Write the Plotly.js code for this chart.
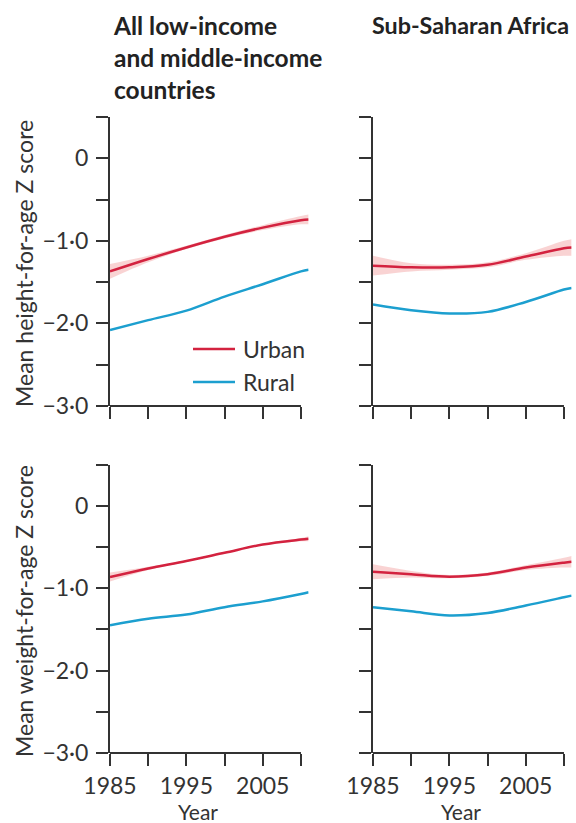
<!DOCTYPE html>
<html>
<head>
<meta charset="utf-8">
<script src="https://cdn.plot.ly/plotly-3.0.1.min.js"></script>
<style>
html,body{margin:0;padding:0;background:#fff;}
#chart{width:576px;height:823px;}
</style>
</head>
<body>
<div id="chart"></div>
<script>
// ---- data ----
var years = [1985, 1990, 1995, 2000, 2005, 2010, 2011];

var hazAllUrban   = [-1.37, -1.22, -1.08, -0.95, -0.84, -0.75, -0.74];
var hazAllUrbanLo = [-1.46, -1.26, -1.10, -0.97, -0.87, -0.80, -0.80];
var hazAllUrbanHi = [-1.28, -1.18, -1.06, -0.93, -0.81, -0.70, -0.68];
var hazAllRural   = [-2.08, -1.96, -1.845, -1.675, -1.525, -1.37, -1.35];

var hazSsaUrban   = [-1.30, -1.32, -1.32, -1.29, -1.19, -1.09, -1.08];
var hazSsaUrbanLo = [-1.42, -1.37, -1.35, -1.32, -1.23, -1.18, -1.18];
var hazSsaUrbanHi = [-1.18, -1.27, -1.29, -1.26, -1.15, -1.00, -0.98];
var hazSsaRural   = [-1.77, -1.84, -1.88, -1.86, -1.74, -1.59, -1.57];

var wazAllUrban   = [-0.865, -0.76, -0.67, -0.57, -0.47, -0.41, -0.40];
var wazAllUrbanLo = [-0.92, -0.78, -0.68, -0.58, -0.48, -0.43, -0.43];
var wazAllUrbanHi = [-0.81, -0.74, -0.66, -0.56, -0.46, -0.39, -0.37];
var wazAllRural   = [-1.45, -1.37, -1.32, -1.23, -1.16, -1.07, -1.05];

var wazSsaUrban   = [-0.80, -0.83, -0.86, -0.83, -0.75, -0.69, -0.68];
var wazSsaUrbanLo = [-0.89, -0.87, -0.88, -0.85, -0.78, -0.75, -0.75];
var wazSsaUrbanHi = [-0.71, -0.79, -0.84, -0.81, -0.72, -0.63, -0.61];
var wazSsaRural   = [-1.23, -1.28, -1.33, -1.30, -1.21, -1.11, -1.09];

var yTickVals = [-3, -2.5, -2, -1.5, -1, -0.5, 0, 0.5];
var yTickText = ["\u22123\u00b70", "", "\u22122\u00b70", "", "\u22121\u00b70", "", "0", ""];
var xTickVals = [1985, 1990, 1995, 2000, 2005, 2010];
var xTickText = ["1985", "", "1995", "", "2005", ""];

var panelTitles = ["All low-income<br>and middle-income<br>countries", "Sub-Saharan Africa"];
var yTitles = ["Mean height-for-age Z score", "Mean weight-for-age Z score"];
var xTitle = "Year";
var seriesNames = ["Urban", "Rural"];

// ---- styles ----
var RED = "#d3223f", BLUE = "#1c9fcf", BAND = "rgba(238,140,140,0.38)";
var INK = "#333333";
var FONT = "Lato";

var panels = [
  {xa: "x",  ya: "y",  u: hazAllUrban, lo: hazAllUrbanLo, hi: hazAllUrbanHi, r: hazAllRural},
  {xa: "x2", ya: "y2", u: hazSsaUrban, lo: hazSsaUrbanLo, hi: hazSsaUrbanHi, r: hazSsaRural},
  {xa: "x3", ya: "y3", u: wazAllUrban, lo: wazAllUrbanLo, hi: wazAllUrbanHi, r: wazAllRural},
  {xa: "x4", ya: "y4", u: wazSsaUrban, lo: wazSsaUrbanLo, hi: wazSsaUrbanHi, r: wazSsaRural}
];

var traces = [];
panels.forEach(function (p) {
  traces.push({x: years, y: p.lo, xaxis: p.xa, yaxis: p.ya, mode: "lines",
    line: {width: 0, shape: "spline", color: BAND}, showlegend: false, hoverinfo: "skip"});
  traces.push({x: years, y: p.hi, xaxis: p.xa, yaxis: p.ya, mode: "lines", fill: "tonexty",
    fillcolor: BAND, line: {width: 0, shape: "spline", color: BAND}, showlegend: false, hoverinfo: "skip"});
  traces.push({x: years, y: p.u, xaxis: p.xa, yaxis: p.ya, mode: "lines", name: seriesNames[0],
    line: {width: 2.5, shape: "spline", color: RED}, showlegend: false});
  traces.push({x: years, y: p.r, xaxis: p.xa, yaxis: p.ya, mode: "lines", name: seriesNames[1],
    line: {width: 2.5, shape: "spline", color: BLUE}, showlegend: false});
});

function xaxis(dom, anchor, labels) {
  return {domain: dom, anchor: anchor, range: [1985, 2011], showgrid: false, zeroline: false,
    showline: false, ticks: "outside", ticklen: 12, tickwidth: 2, tickcolor: INK,
    tickmode: "array", tickvals: xTickVals, ticktext: labels ? xTickText : xTickVals.map(function(){return "";}),
    tickfont: {family: FONT, size: 23, color: INK}, fixedrange: true};
}
function yaxis(dom, anchor, labels) {
  return {domain: dom, anchor: anchor, range: [-3, 0.5], showgrid: false, zeroline: false,
    showline: true, linecolor: INK, linewidth: 2, ticks: "outside", ticklen: 12, tickwidth: 2, tickcolor: INK,
    tickmode: "array", tickvals: yTickVals, ticktext: labels ? yTickText : yTickVals.map(function(){return "";}),
    tickfont: {family: FONT, size: 23, color: INK}, ticklabelstandoff: 3, fixedrange: true};
}

var xL = [110/576, 308.6/576], xR = [373/576, 571.6/576];
var yT = [417/823, 706/823], yB = [70/823, 358.4/823];

var xEnd = (2010 - 1985) / (2011 - 1985);
var shapes = ["x", "x2", "x3", "x4"].map(function (a, i) {
  var ya = ["y", "y2", "y3", "y4"][i];
  return {type: "line", xref: a + " domain", yref: ya + " domain", x0: 0, x1: xEnd, y0: 0, y1: 0,
    line: {color: INK, width: 2}};
});
// legend keys (drawn manually to match the longer key lines)
var legendRows = [{name: seriesNames[0], color: RED, ypx: 349}, {name: seriesNames[1], color: BLUE, ypx: 382}];
legendRows.forEach(function (r) {
  shapes.push({type: "line", xref: "paper", yref: "paper", x0: 193/576, x1: 235/576,
    y0: 1 - r.ypx/823, y1: 1 - r.ypx/823, line: {color: r.color, width: 2.5}});
});

var annotations = [
  {text: panelTitles[0], xref: "paper", yref: "paper", x: 111/576, y: 1 - 9/823, xanchor: "left", yanchor: "top",
    align: "left", showarrow: false, font: {family: FONT, size: 24.5, color: "#222", weight: "bold"}},
  {text: panelTitles[1], xref: "paper", yref: "paper", x: 370/576, y: 1 - 9/823, xanchor: "left", yanchor: "top",
    align: "left", showarrow: false, font: {family: FONT, size: 23.3, color: "#222", weight: "bold"}},
  {text: yTitles[0], xref: "paper", yref: "paper", x: 24/576, y: 1 - 264/823, xanchor: "center", yanchor: "middle",
    textangle: -90, showarrow: false, font: {family: FONT, size: 23, color: INK}},
  {text: yTitles[1], xref: "paper", yref: "paper", x: 24/576, y: 1 - 611/823, xanchor: "center", yanchor: "middle",
    textangle: -90, showarrow: false, font: {family: FONT, size: 23, color: INK}},
  {text: xTitle, xref: "paper", yref: "paper", x: 198/576, y: 1 - 797/823, xanchor: "center", yanchor: "top",
    showarrow: false, font: {family: FONT, size: 21, color: INK}},
  {text: xTitle, xref: "paper", yref: "paper", x: 461/576, y: 1 - 797/823, xanchor: "center", yanchor: "top",
    showarrow: false, font: {family: FONT, size: 21, color: INK}}
];
legendRows.forEach(function (r) {
  annotations.push({text: r.name, xref: "paper", yref: "paper", x: 241/576, y: 1 - r.ypx/823,
    xanchor: "left", yanchor: "middle", showarrow: false, font: {family: FONT, size: 23, color: INK}});
});

var layout = {
  width: 576, height: 823,
  margin: {l: 0, r: 0, t: 0, b: 0},
  paper_bgcolor: "#fff", plot_bgcolor: "rgba(0,0,0,0)",
  font: {family: FONT, color: INK},
  showlegend: false,
  xaxis: xaxis(xL, "y", false),
  yaxis: yaxis(yT, "x", true),
  xaxis2: xaxis(xR, "y2", false),
  yaxis2: yaxis(yT, "x2", false),
  xaxis3: xaxis(xL, "y3", true),
  yaxis3: yaxis(yB, "x3", true),
  xaxis4: xaxis(xR, "y4", true),
  yaxis4: yaxis(yB, "x4", false),
  shapes: shapes,
  annotations: annotations
};

Plotly.newPlot("chart", traces, layout, {displayModeBar: false, staticPlot: true});
</script>
</body>
</html>
